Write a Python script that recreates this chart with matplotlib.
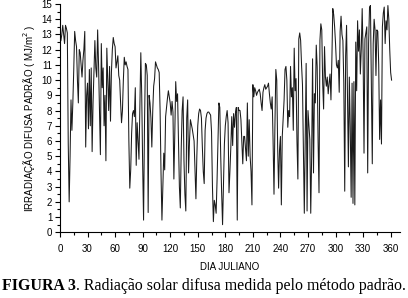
import numpy as np
import matplotlib
matplotlib.use("Agg")
import matplotlib.pyplot as plt
from matplotlib.ticker import MultipleLocator

# radiacao difusa diaria (MJ/m2), dia 1 em diante
difusa = [
    12.6, 13.0, 13.6, 13.0, 12.4, 13.6, 13.4, 13.1, 5.8, 2.0,
    5.0, 8.7, 6.7, 8.5, 10.7, 13.2, 12.6, 12.2, 10.0, 8.5,
    12.0, 11.8, 11.0, 10.2, 11.3, 12.0, 13.2, 5.6, 9.0, 9.8,
    6.8, 10.7, 7.0, 10.8, 5.3, 8.5, 10.5, 12.6, 10.8, 10.2,
    13.3, 11.0, 8.2, 5.1, 12.4, 9.5, 10.8, 7.0, 9.0, 4.7,
    12.1, 10.0, 8.0, 10.9, 7.3, 10.5, 12.0, 12.8, 12.4, 12.2,
    10.8, 11.2, 11.6, 10.3, 10.0, 8.5, 7.2, 8.0, 10.0, 11.5,
    11.0, 11.2, 10.9, 10.7, 6.0, 2.9, 4.1, 6.5, 7.8, 8.0,
    7.6, 9.5, 4.4, 7.2, 6.0, 4.8, 8.5, 11.8, 9.0, 4.5,
    0.8, 7.0, 11.1, 11.0, 10.3, 1.3, 9.0, 8.5, 7.5, 5.6,
    8.0, 9.6, 10.1, 11.2, 11.0, 10.8, 10.7, 10.5, 8.0, 3.9,
    0.8, 3.0, 5.2, 4.1, 7.6, 8.2, 8.8, 9.3, 8.9, 8.5,
    7.7, 8.6, 7.9, 3.5, 6.5, 9.9, 8.6, 9.1, 6.0, 3.0,
    1.6, 5.5, 8.0, 8.9, 4.7, 2.5, 1.4, 7.5, 8.7, 3.9,
    6.0, 7.4, 7.1, 6.8, 6.4, 6.0, 4.0, 2.2, 5.0, 7.0,
    7.8, 8.1, 8.0, 7.5, 5.6, 4.0, 3.2, 6.7, 7.5, 7.8,
    7.9, 7.9, 7.8, 7.7, 6.6, 3.0, 0.7, 2.1, 1.8, 1.25,
    3.4, 6.0, 8.5, 8.2, 5.0, 2.6, 0.5, 3.0, 5.8, 7.0,
    7.6, 8.0, 7.2, 2.6, 4.0, 5.6, 7.6, 5.7, 7.8, 6.9,
    7.8, 8.2, 0.8, 8.2, 8.0, 8.0, 7.4, 6.0, 4.5, 6.3,
    6.3, 5.5, 4.7, 8.5, 5.0, 7.4, 5.0, 4.0, 1.8, 9.7,
    8.9, 9.5, 9.3, 9.0, 9.2, 9.3, 9.4, 9.1, 8.5, 8.0,
    9.2, 9.5, 9.7, 9.4, 9.5, 9.6, 9.8, 9.1, 8.5, 8.1,
    8.9, 6.0, 2.5, 7.0, 10.7, 10.0, 5.5, 2.9, 5.4, 6.3,
    1.8, 6.3, 7.5, 8.7, 10.7, 10.9, 10.0, 6.9, 8.0, 7.6,
    10.9, 8.9, 9.5, 6.7, 12.1, 9.3, 10.1, 6.0, 3.5, 12.7,
    13.1, 12.6, 11.0, 9.7, 5.6, 1.25, 6.4, 11.1, 1.4, 8.0,
    7.0, 6.1, 1.25, 5.0, 11.4, 3.9, 9.1, 8.5, 12.3, 10.9,
    6.0, 2.6, 12.6, 13.7, 13.3, 9.8, 8.1, 12.2, 10.2, 9.6,
    10.2, 9.1, 9.8, 10.4, 8.7, 11.3, 14.7, 14.3, 13.5, 12.4,
    11.0, 10.8, 11.3, 9.2, 13.2, 14.2, 13.0, 12.6, 9.8, 2.7,
    11.6, 13.6, 8.7, 4.3, 10.2, 6.9, 2.3, 9.8, 1.9, 9.9,
    1.8, 12.5, 9.3, 13.9, 11.9, 13.3, 10.4, 12.0, 14.7, 11.7,
    5.2, 12.7, 13.1, 13.5, 3.9, 12.4, 14.8, 14.9, 9.8, 4.5,
    12.4, 14.0, 13.3, 10.3, 13.3, 13.2, 11.0, 6.1, 8.7, 5.8,
    13.5, 14.4, 14.8, 12.4, 13.9, 13.3, 14.9, 14.0, 12.0, 10.5,
    10.0,
]
dias = np.arange(1, len(difusa) + 1)

plt.rcParams['font.family'] = ['Liberation Sans', 'DejaVu Sans']

fig = plt.figure(figsize=(4.08, 2.98), dpi=100)
ax = fig.add_axes([0.147, 0.2205, 0.833, 0.766])

ax.plot(dias, difusa, color='#1a1a1a', linewidth=0.75)

ax.set_xlim(0, 370)
ax.set_ylim(0, 15)
ax.xaxis.set_major_locator(MultipleLocator(30))
ax.xaxis.set_minor_locator(MultipleLocator(15))
ax.yaxis.set_major_locator(MultipleLocator(1))
ax.yaxis.set_minor_locator(MultipleLocator(0.5))
ax.tick_params(which='both', direction='out', labelsize=7, width=0.8)
ax.tick_params(which='major', length=3.5)
ax.tick_params(axis='x', which='major', pad=5)
ax.tick_params(axis='y', which='major', pad=2)
ax.tick_params(which='minor', length=2)

ax.spines['top'].set_visible(False)
ax.spines['right'].set_visible(False)

ax.set_xlabel('DIA JULIANO', fontsize=7, labelpad=6)
ax.set_ylabel('IRRADIAÇÃO DIFUSA PADRÃO ( MJ/m$^{2}$ )', fontsize=7, labelpad=3)

# legenda da figura, parte em negrito
t1 = fig.text(0.006, 0.012, 'FIGURA 3', fontsize=11.4, fontweight='bold',
              family='Liberation Serif', va='bottom')
ax.annotate('. Radiação solar difusa medida pelo método padrão.',
            xy=(1, 0), xycoords=t1, va='bottom', ha='left',
            fontsize=11.4, family='Liberation Serif', annotation_clip=False)

fig.savefig('out.png', dpi=100)
